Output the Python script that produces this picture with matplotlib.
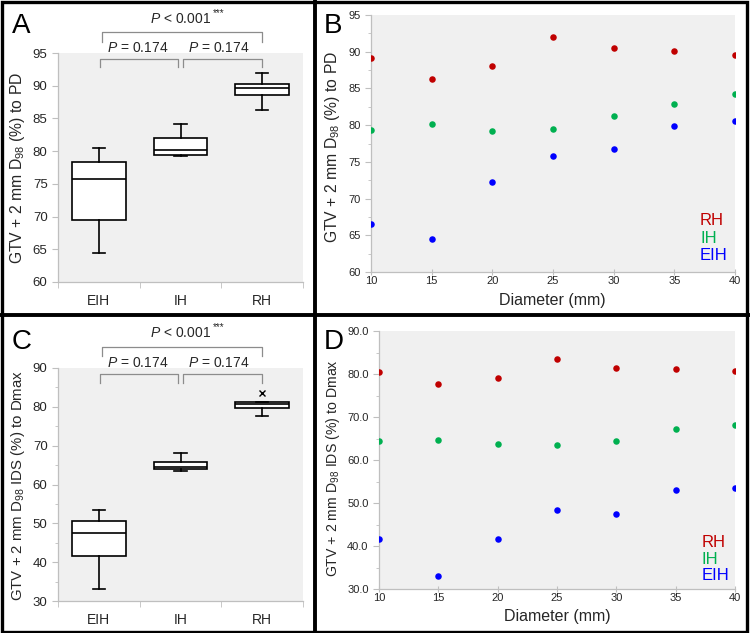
import numpy as np
import matplotlib
matplotlib.use('Agg')
import matplotlib.pyplot as plt
import matplotlib.transforms as mtransforms
from matplotlib.lines import Line2D
from matplotlib.patches import Rectangle
from matplotlib.ticker import MultipleLocator, FormatStrFormatter, FixedLocator

plt.rcParams['font.family'] = ['Liberation Sans', 'DejaVu Sans']
plt.rcParams['mathtext.fontset'] = 'custom'
plt.rcParams['mathtext.rm'] = 'Liberation Sans'
plt.rcParams['mathtext.it'] = 'Liberation Sans:italic'

# data
diameters = [10, 15, 20, 25, 30, 35, 40]
groups = ['EIH', 'IH', 'RH']

pd_eih = [66.5, 64.45, 72.3, 75.8, 76.8, 79.9, 80.55]
pd_ih = [79.3, 80.2, 79.2, 79.5, 81.2, 82.9, 84.2]
pd_rh = [89.2, 86.3, 88.0, 91.95, 90.45, 90.1, 89.6]

dmax_eih = [41.7, 33.1, 41.7, 48.3, 47.5, 53.05, 53.45]
dmax_ih = [64.4, 64.7, 63.7, 63.6, 64.4, 67.1, 68.1]
dmax_rh = [80.5, 77.6, 79.0, 83.6, 81.35, 81.1, 80.7]

RED = '#c00000'
GREEN = '#00b050'
BLUE = '#0000ff'
BG = '#f0f0f0'
AXC = '#bfbfbf'
BRC = '#8c8c8c'
TXT = '#262626'

W, H = 750, 633
fig = plt.figure(figsize=(W / 100, H / 100), dpi=100)


def add_ax(x0, y0, x1, y1):
    # pixel box (top-left origin) -> figure axes
    return fig.add_axes([x0 / W, 1 - y1 / H, (x1 - x0) / W, (y1 - y0) / H])


def style_ax(ax):
    ax.set_facecolor(BG)
    for s in ['top', 'right']:
        ax.spines[s].set_visible(False)
    for s in ['left', 'bottom']:
        ax.spines[s].set_color(AXC)
        ax.spines[s].set_linewidth(0.9)
    ax.tick_params(which='both', color=AXC, labelcolor=TXT)


def box_panel(ax, data, ylim, ystep, minor):
    style_ax(ax)
    ax.boxplot(data, positions=[1, 2, 3], widths=0.66, whis=1.5,
               capwidths=0.15, patch_artist=True,
               boxprops=dict(facecolor='white', edgecolor='black', linewidth=1.2),
               medianprops=dict(color='black', linewidth=1.2),
               whiskerprops=dict(color='black', linewidth=1.2),
               capprops=dict(color='black', linewidth=1.2),
               flierprops=dict(marker='x', markeredgecolor='black',
                               markersize=5, markeredgewidth=1.0))
    ax.set_xlim(0.5, 3.5)
    ax.set_ylim(*ylim)
    ax.yaxis.set_major_locator(MultipleLocator(ystep))
    if minor:
        ax.yaxis.set_minor_locator(MultipleLocator(ystep / 2))
    ax.set_xticks([1, 2, 3])
    ax.set_xticklabels(groups, fontsize=10)
    ax.xaxis.set_minor_locator(FixedLocator([0.5, 1.5, 2.5, 3.5]))
    ax.tick_params(axis='x', which='major', length=0, pad=9)
    ax.tick_params(axis='x', which='minor', length=4, direction='out')
    ax.tick_params(axis='y', which='major', length=4, labelsize=9.5)
    ax.tick_params(axis='y', which='minor', length=2.5)

    # significance brackets
    tr = mtransforms.blended_transform_factory(ax.transData, ax.transAxes)
    kw = dict(color=BRC, linewidth=0.9, transform=tr, clip_on=False)
    ax.plot([1.04, 1.04, 3.0, 3.0], [1.05, 1.09, 1.09, 1.05], **kw)
    ax.plot([1.01, 1.01, 1.97, 1.97], [0.937, 0.974, 0.974, 0.937], **kw)
    ax.plot([2.03, 2.03, 3.0, 3.0], [0.937, 0.974, 0.974, 0.937], **kw)
    t = ax.text(2.0, 1.15, r'$\it{P}$ < 0.001', transform=tr,
                ha='center', va='center', fontsize=10, color=TXT)
    ax.annotate('***', xy=(1.0, 0.55), xycoords=t, xytext=(1, 0),
                textcoords='offset points', ha='left', va='bottom',
                fontsize=7, color=TXT)
    ax.text(1.48, 1.02, r'$\it{P}$ = 0.174', transform=tr,
            ha='center', va='center', fontsize=10, color=TXT)
    ax.text(2.47, 1.02, r'$\it{P}$ = 0.174', transform=tr,
            ha='center', va='center', fontsize=10, color=TXT)


def scatter_panel(ax, series, ylim, ystep, fmt, lx, ly):
    style_ax(ax)
    for vals, col in series:
        ax.scatter(diameters, vals, s=22, color=col, zorder=3, linewidths=0)
    ax.set_xlim(10, 40)
    ax.set_ylim(*ylim)
    ax.xaxis.set_major_locator(MultipleLocator(5))
    ax.yaxis.set_major_locator(MultipleLocator(ystep))
    ax.yaxis.set_minor_locator(MultipleLocator(ystep / 2))
    ax.yaxis.set_major_formatter(FormatStrFormatter(fmt))
    ax.tick_params(axis='x', which='major', length=4, direction='inout',
                   labelsize=8, pad=1)
    ax.tick_params(axis='y', which='major', length=4, labelsize=8)
    ax.tick_params(axis='y', which='minor', length=2)
    names = ['RH', 'IH', 'EIH']
    for (vals, col), name, yy in zip(series, names, ly):
        ax.text(lx, yy, name, color=col, fontsize=12, transform=ax.transAxes,
                ha='left', va='center')


# Panel A
axA = add_ax(58, 53, 303, 282)
box_panel(axA, [pd_eih, pd_ih, pd_rh], (60, 95), 5, False)
fig.text(18 / W, 1 - 168 / H, r'GTV + 2 mm D$_{98}$ (%) to PD', rotation=90,
         ha='center', va='center', fontsize=11.3, color=TXT)

# Panel B
axB = add_ax(371, 15, 735, 272)
scatter_panel(axB, [(pd_rh, RED), (pd_ih, GREEN), (pd_eih, BLUE)],
              (60, 95), 5, '%d', 0.904, [0.202, 0.132, 0.066])
fig.text(333 / W, 1 - 147 / H, r'GTV + 2 mm D$_{98}$ (%) to PD', rotation=90,
         ha='center', va='center', fontsize=11.3, color=TXT)
fig.text(552 / W, 1 - 300 / H, 'Diameter (mm)', ha='center', va='center',
         fontsize=11.5, color=TXT)

# Panel C
axC = add_ax(58, 368, 303, 601)
box_panel(axC, [dmax_eih, dmax_ih, dmax_rh], (30, 90), 10, True)
fig.text(18 / W, 1 - 485 / H, r'GTV + 2 mm D$_{98}$ IDS (%) to Dmax',
         rotation=90, ha='center', va='center', fontsize=10.8, color=TXT)

# Panel D
axD = add_ax(379, 331, 735, 589)
scatter_panel(axD, [(dmax_rh, RED), (dmax_ih, GREEN), (dmax_eih, BLUE)],
              (30, 90), 10, '%.1f', 0.907, [0.182, 0.116, 0.054])
fig.text(333 / W, 1 - 468 / H, r'GTV + 2 mm D$_{98}$ IDS (%) to Dmax',
         rotation=90, ha='center', va='center', fontsize=10.2, color=TXT)
fig.text(557 / W, 1 - 616 / H, 'Diameter (mm)', ha='center', va='center',
         fontsize=11.5, color=TXT)

# panel letters
for letter, (px, py) in zip('ABCD', [(12, 13), (324, 13), (12, 329), (324, 329)]):
    fig.text(px / W, 1 - py / H, letter, ha='left', va='top', fontsize=20)

# panel frames
fig.add_artist(Rectangle((1.5 / W, 1.5 / H), 745.5 / W, 629.5 / H,
                         transform=fig.transFigure, fill=False,
                         edgecolor='black', linewidth=2.4))
fig.add_artist(Line2D([315 / W, 315 / W], [0, 1], transform=fig.transFigure,
                      color='black', linewidth=2.8))
fig.add_artist(Line2D([0, 1], [1 - 314.5 / H, 1 - 314.5 / H],
                      transform=fig.transFigure, color='black', linewidth=2.8))

fig.savefig('out.png', dpi=100, facecolor='white')
